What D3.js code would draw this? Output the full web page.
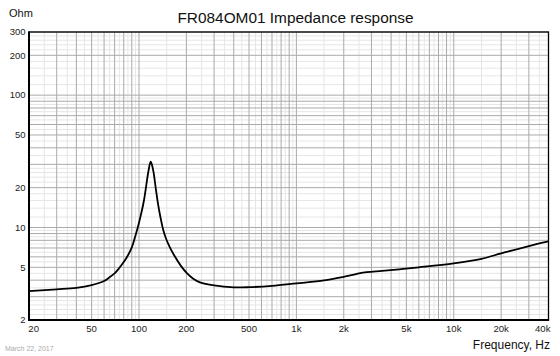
<!DOCTYPE html>
<html>
<head>
<meta charset="utf-8">
<script src="https://cdn.jsdelivr.net/npm/d3@7"></script>
<style>
  html, body { margin: 0; padding: 0; background: #fff; }
  svg { display: block; font-family: "Liberation Sans", Arial, sans-serif; }
</style>
</head>
<body>
<svg id="chart" width="560" height="356"></svg>
<script>
const freqs = [20, 30, 40, 50, 60, 64.4, 70, 74.5, 80.2, 85.1, 90, 94.2, 98.4, 102.8, 107.5, 111.4, 114.8, 118.6, 121.7, 124.4, 128, 132.4, 136.8, 141.9, 148.2, 157.1, 169.1, 184.6, 201.5, 220, 244, 300, 400, 500, 700, 1000, 1500, 2000, 2400, 2800, 3500, 4500, 6000, 10000, 15000, 20000, 30000, 40000];
const impedance = [3.31, 3.41, 3.5, 3.67, 3.94, 4.17, 4.5, 4.9, 5.5, 6.17, 7.08, 8.41, 10.1, 12.45, 16.0, 21.1, 26.6, 31.4, 28.8, 25.1, 19.5, 14.8, 12.0, 9.8, 8.3, 7.08, 6.03, 5.13, 4.52, 4.12, 3.85, 3.65, 3.53, 3.54, 3.62, 3.78, 3.98, 4.24, 4.45, 4.6, 4.7, 4.83, 5.0, 5.36, 5.8, 6.37, 7.24, 7.85];
const xTickValues = [20, 50, 100, 200, 500, 1000, 2000, 5000, 10000, 20000, 40000];
const xTickLabels = ["20", "50", "100", "200", "500", "1k", "2k", "5k", "10k", "20k", "40k"];
const yTickValues = [2, 5, 10, 20, 50, 100, 200, 300];
const yTickLabels = ["2", "5", "10", "20", "50", "100", "200", "300"];
const titleText = "FR084OM01 Impedance response";
const yUnit = "Ohm";
const xTitle = "Frequency, Hz";
const dateText = "March 22, 2017";

const svg = d3.select("#chart");
const L = 29, R = 548.5, T = 32, B = 320;
const x = d3.scaleLog().domain([20, 40000]).range([L, R]);
const y = d3.scaleLog().domain([2, 300]).range([B, T]);

// grid values
const xMajor = [], xMinor = [];
for (let d = 10; d <= 10000; d *= 10) {
  for (let m = 1; m <= 9; m++) {
    const v = m * d; if (v >= 20 && v <= 40000) xMajor.push(v);
    const h = (m + 0.5) * d; if (h > 20 && h < 40000) xMinor.push(h);
  }
}
const yMajor = [], yMinor = [];
for (let d = 1; d <= 100; d *= 10) {
  for (let m = 1; m <= 9; m++) {
    const v = m * d; if (v >= 2 && v <= 300) yMajor.push(v);
  }
  const steps = [1.2, 1.4, 1.6, 1.8, 2.2, 2.4, 2.6, 2.8, 3.5, 4.5, 5.5, 6.5, 7.5, 8.5, 9.5];
  steps.forEach(s => { const v = s * d; if (v > 2 && v < 300) yMinor.push(v); });
}

const grid = svg.append("g");
grid.selectAll(".xmin").data(xMinor).join("line")
  .attr("x1", d => x(d)).attr("x2", d => x(d)).attr("y1", T).attr("y2", B)
  .attr("stroke", "#e6e6e6").attr("stroke-width", 1);
grid.selectAll(".ymin").data(yMinor).join("line")
  .attr("y1", d => y(d)).attr("y2", d => y(d)).attr("x1", L).attr("x2", R)
  .attr("stroke", "#e6e6e6").attr("stroke-width", 1);
grid.selectAll(".xmaj").data(xMajor).join("line")
  .attr("x1", d => x(d)).attr("x2", d => x(d)).attr("y1", T).attr("y2", B)
  .attr("stroke", "#aaaaaa").attr("stroke-width", 1);
grid.selectAll(".ymaj").data(yMajor).join("line")
  .attr("y1", d => y(d)).attr("y2", d => y(d)).attr("x1", L).attr("x2", R)
  .attr("stroke", "#aaaaaa").attr("stroke-width", 1);

// frame
svg.append("rect").attr("x", L).attr("y", T).attr("width", R - L).attr("height", B - T)
  .attr("fill", "none").attr("stroke", "#000").attr("stroke-width", 1.3);
svg.append("line").attr("x1", L).attr("x2", L).attr("y1", T - 0.6).attr("y2", B + 1)
  .attr("stroke", "#000").attr("stroke-width", 2);
svg.append("line").attr("x1", L - 1).attr("x2", R + 0.6).attr("y1", B).attr("y2", B)
  .attr("stroke", "#000").attr("stroke-width", 2);

// curve
const pts = freqs.map((f, i) => [f, impedance[i]]);
svg.append("path").datum(pts)
  .attr("d", d3.line().x(d => x(d[0])).y(d => y(d[1])).curve(d3.curveCatmullRom.alpha(0.5)))
  .attr("fill", "none").attr("stroke", "#000").attr("stroke-width", 1.8)
  .attr("stroke-linejoin", "round");

// tick labels
svg.append("g").selectAll("text").data(xTickValues).join("text")
  .attr("x", (d, i) => i === 0 ? 28.3 : i === xTickValues.length - 1 ? 550.5 : x(d))
  .attr("y", 332)
  .attr("text-anchor", (d, i) => i === 0 ? "start" : i === xTickValues.length - 1 ? "end" : "middle")
  .attr("font-size", "9.6px").attr("fill", "#222")
  .text((d, i) => xTickLabels[i]);
svg.append("g").selectAll("text").data(yTickValues).join("text")
  .attr("x", 25.5).attr("y", d => y(d)).attr("dy", "0.35em")
  .attr("text-anchor", "end").attr("font-size", "9.5px").attr("fill", "#222")
  .text((d, i) => yTickLabels[i]);

// titles
svg.append("text").attr("x", 295.5).attr("y", 22.5).attr("text-anchor", "middle")
  .attr("font-size", "15.4px").attr("fill", "#111").text(titleText);
svg.append("text").attr("x", 9).attr("y", 17).attr("font-size", "11px").attr("fill", "#111").text(yUnit);
svg.append("text").attr("x", 550).attr("y", 349).attr("text-anchor", "end")
  .attr("font-size", "12px").attr("fill", "#111").text(xTitle);
svg.append("text").attr("x", 5).attr("y", 351).attr("font-size", "7px").attr("fill", "#aaa").text(dateText);
</script>
</body>
</html>
